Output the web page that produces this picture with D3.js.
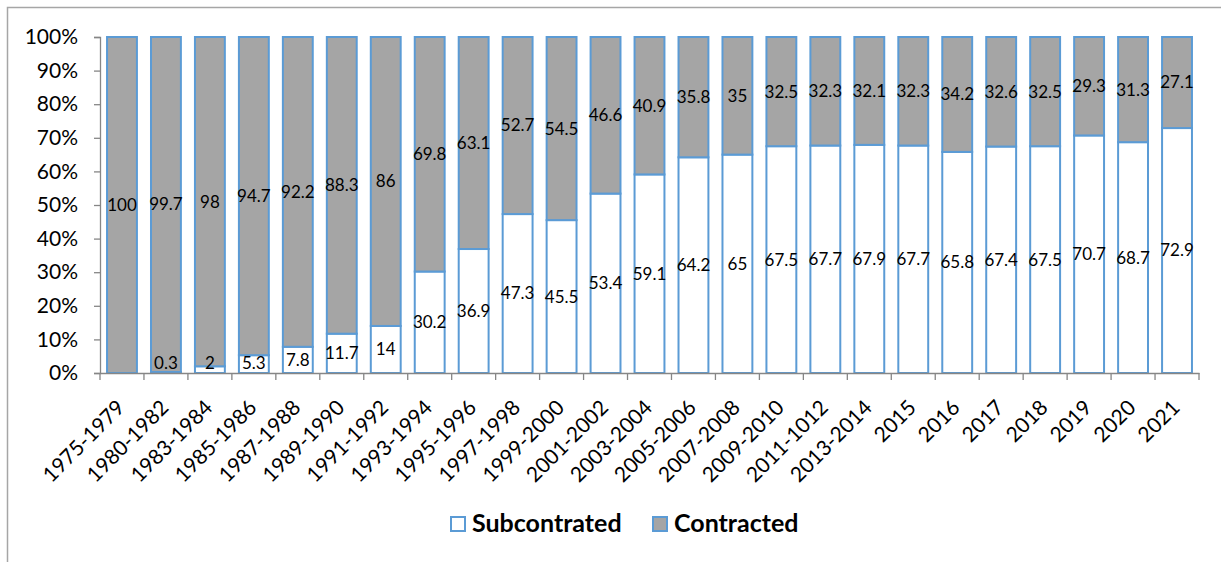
<!DOCTYPE html>
<html><head><meta charset="utf-8">
<script src="https://cdn.jsdelivr.net/npm/d3@7"></script>
<style>body{margin:0;background:#fff}svg{display:block}</style>
</head><body>
<script>
const categories = ["1975-1979","1980-1982","1983-1984","1985-1986","1987-1988","1989-1990","1991-1992","1993-1994","1995-1996","1997-1998","1999-2000","2001-2002","2003-2004","2005-2006","2007-2008","2009-2010","2011-1012","2013-2014","2015","2016","2017","2018","2019","2020","2021"];
const subcontracted = [0,0.3,2,5.3,7.8,11.7,14,30.2,36.9,47.3,45.5,53.4,59.1,64.2,65,67.5,67.7,67.9,67.7,65.8,67.4,67.5,70.7,68.7,72.9];
const contracted = [100,99.7,98,94.7,92.2,88.3,86,69.8,63.1,52.7,54.5,46.6,40.9,35.8,35,32.5,32.3,32.1,32.3,34.2,32.6,32.5,29.3,31.3,27.1];
const yTicks = [0,10,20,30,40,50,60,70,80,90,100];
const seriesNames = ["Subcontrated","Contracted"];

(function(){
const W = 1221, H = 562;
const svg = d3.select("body").append("svg").attr("width", W).attr("height", H);
svg.append("rect").attr("x",7.5).attr("y",7.5).attr("width",1400).attr("height",700)
  .attr("fill","none").attr("stroke","#a6a6a6").attr("stroke-width",1.5);

const pL = 100, pR = 1199, pT = 37, pB = 373;
const x = d3.scaleBand().domain(categories).range([pL,pR]).paddingInner(0.32).paddingOuter(0.16);
const y = d3.scaleLinear().domain([0,100]).range([pB,pT]);

const rows = categories.map((c,i)=>({cat:c, Subcontrated:subcontracted[i], Contracted:contracted[i]}));
const stack = d3.stack().keys(seriesNames)(rows);
const fills = {Subcontrated:"#ffffff", Contracted:"#a5a5a5"};

const font = "Lato, 'Open Sans', sans-serif";

// y axis
const yAxis = svg.append("g").attr("transform",`translate(${pL},0)`)
  .call(d3.axisLeft(y).tickValues(yTicks).tickFormat(d=>d+"%").tickSize(6).tickPadding(16));
yAxis.select(".domain").attr("stroke","#868686").attr("stroke-width",1.3);
yAxis.selectAll(".tick line").attr("stroke","#868686").attr("stroke-width",1.3);
yAxis.selectAll("text").attr("font-family",font).attr("font-size",21).attr("fill","#000");

// bars
stack.forEach(s=>{
  svg.append("g").selectAll("rect").data(s).join("rect")
    .attr("x",d=>x(d.data.cat)).attr("width",x.bandwidth())
    .attr("y",d=>y(d[1])).attr("height",d=>y(d[0])-y(d[1]))
    .attr("fill",fills[s.key]).attr("stroke","#5b9bd5").attr("stroke-width",2);
});

// x axis
const xAxis = svg.append("g").attr("transform",`translate(0,${pB})`)
  .call(d3.axisBottom(x).tickSize(0).tickPadding(0));
xAxis.select(".domain").attr("stroke","#868686").attr("stroke-width",1.3);
xAxis.selectAll(".tick line").remove();
xAxis.selectAll("text").attr("font-family",font).attr("font-size",21).attr("fill","#000")
  .attr("text-anchor","end").attr("dy",0)
  .attr("transform","translate(4,36) rotate(-45)");
// category boundary ticks
const bounds = d3.range(categories.length+1).map(i=>pL + i*(pR-pL)/categories.length);
svg.append("g").selectAll("line").data(bounds).join("line")
  .attr("x1",d=>d).attr("x2",d=>d).attr("y1",pB).attr("y2",pB+7)
  .attr("stroke","#868686").attr("stroke-width",1.3);

// labels
stack.forEach(s=>{
  svg.append("g").selectAll("text").data(s.filter(d=>d[1]-d[0]>0)).join("text")
    .attr("x",d=>x(d.data.cat)+x.bandwidth()/2)
    .attr("y",d=>Math.min((y(d[0])+y(d[1]))/2, pB-10))
    .attr("dy","0.35em").attr("text-anchor","middle")
    .attr("font-family",font).attr("font-size",17).attr("fill","#000")
    .text(d=>d.data[s.key]);
});

// legend
const legend = svg.append("g");
const legItems = [{name:seriesNames[0],x:451},{name:seriesNames[1],x:653}];
legItems.forEach(it=>{
  legend.append("rect").attr("x",it.x).attr("y",517).attr("width",14).attr("height",14)
    .attr("fill",fills[it.name]).attr("stroke","#5b9bd5").attr("stroke-width",2);
  legend.append("text").attr("x",it.x+21).attr("y",523).attr("dy","0.35em")
    .attr("font-family",font).attr("font-weight","bold").attr("font-size",25).attr("fill","#000")
    .text(it.name);
});
})();
</script>
</body></html>
